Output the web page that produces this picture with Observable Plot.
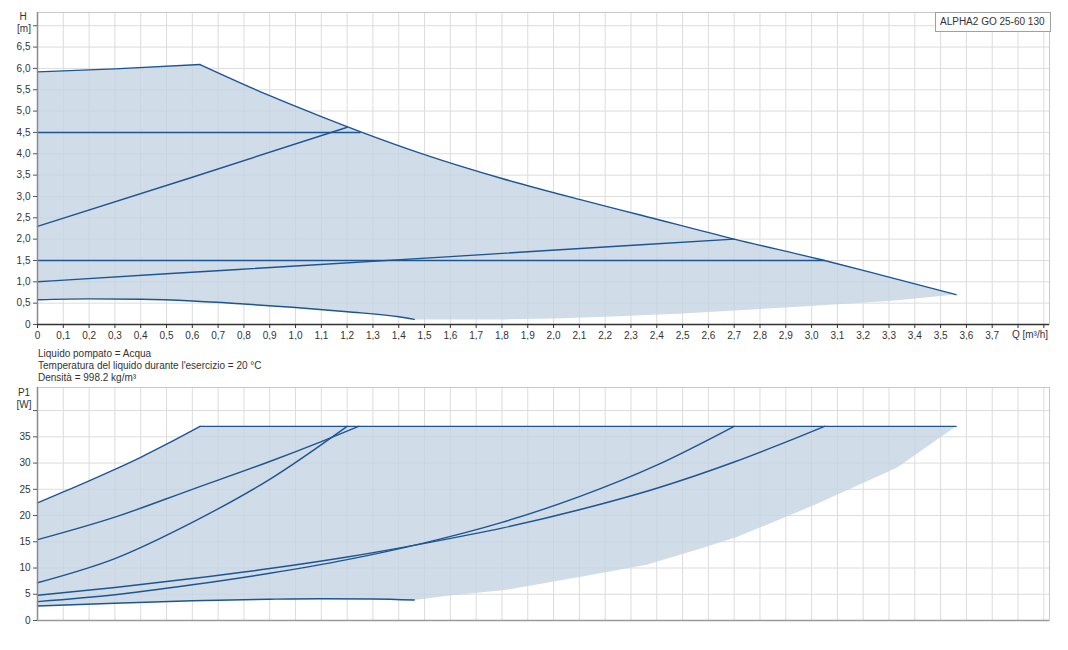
<!DOCTYPE html>
<html>
<head>
<meta charset="utf-8">
<script src="https://cdn.jsdelivr.net/npm/d3@7"></script>
<script src="https://cdn.jsdelivr.net/npm/@observablehq/plot@0.6"></script>
<style>
  body { margin: 0; background: #fff; width: 1068px; height: 650px; position: relative; overflow: hidden;
         font-family: "Liberation Sans", Arial, sans-serif; color: #333; }
  .abs { position: absolute; white-space: nowrap; }
  .lbl { position: absolute; white-space: nowrap; font-size: 10px; transform: translate(-50%, -50%); line-height: 1; }
  #info { left: 38px; top: 348px; font-size: 10px; line-height: 12px; }
  #legend { left: 935px; top: 12px; width: 114px; height: 18px; border: 1px solid #a0a0a0; box-sizing: content-box;
            font-size: 10px; line-height: 18px; padding-left: 0; background: #fff; }
  #legend span { margin-left: 4px; }
</style>
</head>
<body>
<div id="top" class="abs" style="left:0;top:0"></div>
<div id="bottom" class="abs" style="left:0;top:375px"></div>
<div id="info" class="abs">Liquido pompato = Acqua<br>Temperatura del liquido durante l'esercizio = 20 °C<br>Densità = 998.2 kg/m³</div>
<div id="legend" class="abs"><span>ALPHA2 GO 25-60 130</span></div>
<div class="lbl" style="left:23px;top:17px">H</div>
<div class="lbl" style="left:24px;top:29px">[m]</div>
<div class="lbl" style="left:1030px;top:335px">Q [m³/h]</div>
<div class="lbl" style="left:24px;top:393px">P1</div>
<div class="lbl" style="left:24px;top:405px">[W]</div>
<script>
// ---------- Head curves H [m] vs Q [m³/h] ----------
const qMaxRise = [0, 0.3, 0.63];
const hMaxRise = [5.92, 5.99, 6.09];
const qMaxFall = [0.63, 0.9, 1.1, 1.25, 1.5, 1.8, 2.1, 2.34, 2.7, 3.05, 3.3, 3.56];
const hMaxFall = [6.09, 5.36, 4.87, 4.52, 3.98, 3.42, 2.93, 2.56, 2.0, 1.5, 1.11, 0.70];
const qCpHigh = [0, 1.25];
const hCpHigh = [4.5, 4.5];
const qPpHigh = [0, 0.6, 1.2];
const hPpHigh = [2.3, 3.45, 4.62];
const qCpLow = [0, 3.05];
const hCpLow = [1.5, 1.5];
const qPpLow = [0, 0.5, 1.0, 1.6, 2.34, 2.7];
const hPpLow = [1.0, 1.19, 1.37, 1.59, 1.87, 2.0];
const qMinH = [0, 0.2, 0.4, 0.6, 0.8, 1.0, 1.2, 1.4, 1.46];
const hMinH = [0.58, 0.60, 0.59, 0.55, 0.48, 0.40, 0.30, 0.18, 0.12];
const qLowEdgeH = [1.46, 1.8, 2.0, 2.2, 2.5, 2.9, 3.3, 3.56];
const hLowEdgeH = [0.12, 0.12, 0.14, 0.18, 0.26, 0.40, 0.55, 0.70];

// ---------- Power curves P1 [W] vs Q [m³/h] ----------
const qMaxPRise = [0, 0.1, 0.2, 0.3, 0.4, 0.5, 0.63];
const pMaxPRise = [22.4, 24.5, 26.6, 28.8, 31.1, 33.6, 37];
const qMaxPFlat = [0.63, 3.56];
const pMaxPFlat = [37, 37];
const qPCpHigh = [0, 0.3, 0.6, 0.9, 1.1, 1.245];
const pPCpHigh = [15.4, 19.7, 25.0, 30.3, 34.1, 37];
const qPPpHigh = [0, 0.3, 0.6, 0.9, 1.2];
const pPPpHigh = [7.2, 11.8, 18.7, 26.9, 37];
const qPCpLow = [0, 0.3, 0.6, 0.9, 1.2, 1.5, 1.8, 2.1, 2.4, 2.7, 2.88, 3.05];
const pPCpLow = [4.8, 6.3, 8.0, 9.9, 12.1, 14.7, 17.6, 21.1, 25.2, 30.2, 33.6, 37];
const qPPpLow = [0, 0.3, 0.6, 0.9, 1.2, 1.5, 1.8, 2.1, 2.4, 2.7];
const pPPpLow = [3.6, 4.9, 6.8, 9.0, 11.6, 14.8, 18.7, 23.6, 29.6, 37];
const qMinP = [0, 0.3, 0.6, 0.9, 1.1, 1.3, 1.46];
const pMinP = [2.75, 3.3, 3.75, 4.05, 4.15, 4.1, 3.9];
const qLowEdgeP = [1.46, 1.59, 1.81, 2.1, 2.36, 2.57, 2.71, 3.01, 3.33, 3.56];
const pLowEdgeP = [3.9, 4.7, 5.8, 8.3, 10.6, 13.7, 15.9, 22.0, 29.1, 37];

// ---------- Axes ticks ----------
const qTicks = d3.range(0, 40).map(i => i / 10);       // 0 … 3.9 (labels to 3.7)
const qLabelMax = 3.7;
const hTicks = d3.range(0, 15).map(i => i / 2);        // 0 … 7.0 (labels to 6.5)
const hLabelMax = 6.5;
const pTicks = d3.range(0, 9).map(i => i * 5);         // 0 … 40 (labels to 35)
const pLabelMax = 35;
const qDomain = [0, 3.922];
const hDomain = [0, 7.31];
const pDomain = [0, 44.4];

const LINE = "#1d5592";
const FILL = "#c4d3e1";
const GRID = "#dcdcdc";

const pts = (qs, vs) => qs.map((q, i) => ({q, v: vs[i]}));
const rev = a => a.slice().reverse();
const fmt = d => d === 0 ? "0" : d3.format(".1f")(d).replace(".", ",");

const polyH = [
  ...pts(qMaxRise, hMaxRise), ...pts(qMaxFall, hMaxFall).slice(1),
  ...rev(pts(qLowEdgeH, hLowEdgeH)), ...rev(pts(qMinH, hMinH))
];
const polyP = [
  ...pts(qMaxPRise, pMaxPRise), ...pts(qMaxPFlat, pMaxPFlat).slice(1),
  ...rev(pts(qLowEdgeP, pLowEdgeP)), ...rev(pts(qMinP, pMinP))
];

const style = {fontFamily: '"Liberation Sans", Arial, sans-serif', fontSize: "10px", color: "#333", background: "transparent"};
const curveLine = (data) => Plot.line(data, {x: "q", y: "v", stroke: LINE, strokeWidth: 1.4, curve: "monotone-x"});

const topPlot = Plot.plot({
  width: 1068, height: 340,
  marginLeft: 37, marginRight: 19, marginTop: 12, marginBottom: 16,
  style,
  x: {domain: qDomain, label: null},
  y: {domain: hDomain, label: null},
  marks: [
    Plot.ruleX(qTicks, {stroke: GRID}),
    Plot.ruleY(hTicks, {stroke: GRID}),
    Plot.frame({stroke: "#c8c8c8"}),
    Plot.line(polyH, {x: "q", y: "v", fill: FILL, fillOpacity: 0.8, stroke: "none"}),
    curveLine(pts(qMaxRise, hMaxRise)),
    curveLine(pts(qMaxFall, hMaxFall)),
    curveLine(pts(qCpHigh, hCpHigh)),
    curveLine(pts(qPpHigh, hPpHigh)),
    curveLine(pts(qCpLow, hCpLow)),
    curveLine(pts(qPpLow, hPpLow)),
    curveLine(pts(qMinH, hMinH)),
    Plot.ruleX([qDomain[0]], {stroke: "#8a8a8a", strokeWidth: 1.5}),
    Plot.ruleY([hDomain[0]], {stroke: "#333", strokeWidth: 1.5}),
    Plot.axisX(qTicks, {label: null, tickSize: 4, tickPadding: 3, stroke: "#333", tickFormat: d => d <= qLabelMax + 1e-9 ? fmt(d) : ""}),
    Plot.axisY(hTicks, {label: null, tickSize: 4, tickPadding: 3, stroke: "#555", tickFormat: d => d <= hLabelMax + 1e-9 ? fmt(d) : ""})
  ]
});
document.getElementById("top").appendChild(topPlot);

const bottomPlot = Plot.plot({
  width: 1068, height: 255,
  marginLeft: 37, marginRight: 19, marginTop: 12, marginBottom: 10,
  style,
  x: {domain: qDomain, axis: null, label: null},
  y: {domain: pDomain, label: null},
  marks: [
    Plot.ruleX(qTicks, {stroke: GRID}),
    Plot.ruleY(pTicks, {stroke: GRID}),
    Plot.frame({stroke: "#c8c8c8"}),
    Plot.line(polyP, {x: "q", y: "v", fill: FILL, fillOpacity: 0.8, stroke: "none"}),
    curveLine(pts(qMaxPRise, pMaxPRise)),
    curveLine(pts(qMaxPFlat, pMaxPFlat)),
    curveLine(pts(qPCpHigh, pPCpHigh)),
    curveLine(pts(qPPpHigh, pPPpHigh)),
    curveLine(pts(qPCpLow, pPCpLow)),
    curveLine(pts(qPPpLow, pPPpLow)),
    curveLine(pts(qMinP, pMinP)),
    Plot.ruleX([qDomain[0]], {stroke: "#8a8a8a", strokeWidth: 1.5}),
    Plot.ruleY([pDomain[0]], {stroke: "#9a9a9a", strokeWidth: 1.5}),
    Plot.axisY(pTicks, {label: null, tickSize: 4, tickPadding: 3, stroke: "#555", tickFormat: d => d <= pLabelMax ? String(d) : ""})
  ]
});
document.getElementById("bottom").appendChild(bottomPlot);
</script>
</body>
</html>
